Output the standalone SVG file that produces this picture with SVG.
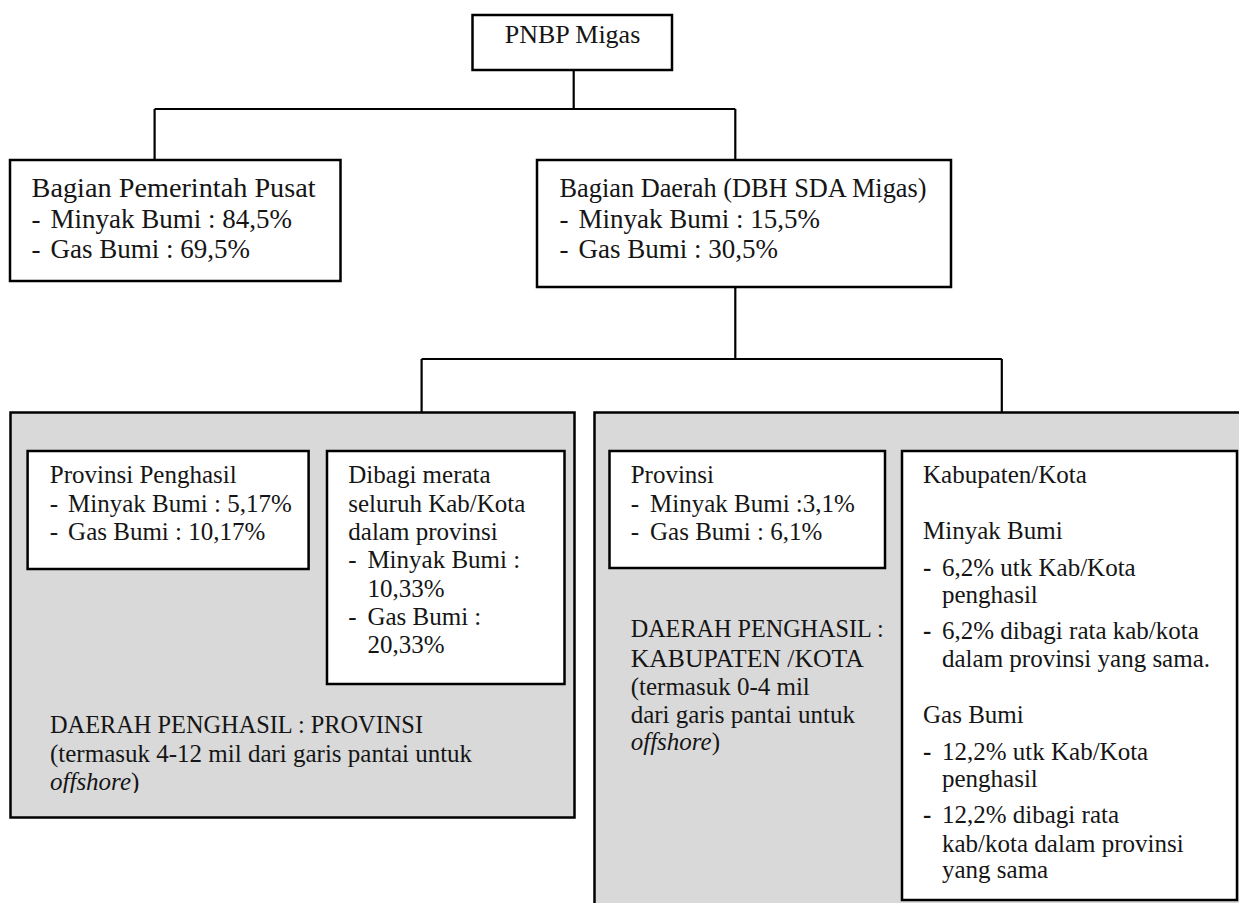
<svg xmlns="http://www.w3.org/2000/svg" width="1239" height="903" viewBox="0 0 1239 903">
<style>
.box{fill:#fff;stroke:#000;stroke-width:2.5}
.gray{fill:#d9d9d9;stroke:#000;stroke-width:2.5}
.conn{fill:none;stroke:#000;stroke-width:2.2}
text{font-family:"Liberation Serif","Times New Roman",serif;fill:#151515}
.t27{font-size:27px}
.t26{font-size:26px}
.t25{font-size:25px}
.b{font-weight:bold}
</style>
<defs>
<clipPath id="clipL"><rect x="10" y="412" width="566" height="381"/></clipPath>
</defs>
<rect width="1239" height="903" fill="#fff"/>
<g id="connectors">
<path class="conn" d="M573.7,70 V109 M154.6,109 H735.3 M154.6,109 V160 M735.3,109 V160"/>
<path class="conn" d="M735.3,287 V359 M421.6,359 H1001.8 M421.6,359 V412 M1001.8,359 V412"/>
</g>
<g id="pnbp">
<rect class="box" x="472.5" y="15" width="199.5" height="55"/>
<text class="t26" x="572.5" y="43" text-anchor="middle">PNBP Migas</text>
</g>
<g id="pusat">
<rect class="box" x="10" y="160" width="330.5" height="121"/>
<text class="t27" x="31.6" y="197" textLength="284" lengthAdjust="spacingAndGlyphs">Bagian Pemerintah Pusat</text>
<text class="t27" y="228"><tspan x="31.6">-</tspan><tspan x="50.6">Minyak Bumi : 84,5%</tspan></text>
<text class="t27" y="258"><tspan x="31.6">-</tspan><tspan x="50.6">Gas Bumi : 69,5%</tspan></text>
</g>
<g id="daerah">
<rect class="box" x="537" y="160" width="414" height="127"/>
<text class="t27" x="559.5" y="197" textLength="367" lengthAdjust="spacingAndGlyphs">Bagian Daerah (DBH SDA Migas)</text>
<text class="t27" y="228"><tspan x="559.5">-</tspan><tspan x="578.5">Minyak Bumi : 15,5%</tspan></text>
<text class="t27" y="258"><tspan x="559.5">-</tspan><tspan x="578.5">Gas Bumi : 30,5%</tspan></text>
</g>
<g id="provinsi-group">
<rect class="gray" x="10.5" y="412.5" width="564" height="405"/>
<g id="provinsi-penghasil">
<rect class="box" x="27.6" y="451" width="281" height="118"/>
<text class="t25" x="49.8" y="483">Provinsi Penghasil</text>
<text class="t25" y="512"><tspan x="49.8">-</tspan><tspan x="68.1">Minyak Bumi : 5,17%</tspan></text>
<text class="t25" y="540"><tspan x="49.8">-</tspan><tspan x="68.1">Gas Bumi : 10,17%</tspan></text>
</g>
<g id="dibagi-merata">
<rect class="box" x="327" y="451" width="237.5" height="233"/>
<text class="t25" x="348.3" y="483">Dibagi merata</text>
<text class="t25" x="348.3" y="512">seluruh Kab/Kota</text>
<text class="t25" x="348.3" y="540">dalam provinsi</text>
<text class="t25" y="568"><tspan x="348.3">-</tspan><tspan x="367.4">Minyak Bumi :</tspan></text>
<text class="t25" x="367.4" y="597">10,33%</text>
<text class="t25" y="625"><tspan x="348.3">-</tspan><tspan x="367.4">Gas Bumi :</tspan></text>
<text class="t25" x="367.4" y="653">20,33%</text>
</g>
<g clip-path="url(#clipL)">
<text class="t26" x="50" y="733" textLength="373" lengthAdjust="spacingAndGlyphs">DAERAH PENGHASIL : PROVINSI</text>
<text class="t25" x="50" y="762">(termasuk 4-12 mil dari garis pantai untuk</text>
<text class="t25" x="50" y="790"><tspan font-style="italic">offshore</tspan>)</text>
</g>
</g>
<g id="kabkota-group">
<rect class="gray" x="594.5" y="412.5" width="700" height="600"/>
<g id="provinsi">
<rect class="box" x="609.5" y="451" width="275.5" height="117"/>
<text class="t25" x="630.7" y="483">Provinsi</text>
<text class="t25" y="512"><tspan x="630.7">-</tspan><tspan x="650">Minyak Bumi :3,1%</tspan></text>
<text class="t25" y="540"><tspan x="630.7">-</tspan><tspan x="650">Gas Bumi : 6,1%</tspan></text>
</g>
<text class="t26" x="630.7" y="637" textLength="253" lengthAdjust="spacingAndGlyphs">DAERAH PENGHASIL :</text>
<text class="t26" x="630.7" y="667" textLength="233" lengthAdjust="spacingAndGlyphs">KABUPATEN /KOTA</text>
<text class="t25" x="630.7" y="695">(termasuk 0-4 mil</text>
<text class="t25" x="630.7" y="723">dari garis pantai untuk</text>
<text class="t25" x="630.7" y="750"><tspan font-style="italic">offshore</tspan>)</text>
<g id="kabupaten-kota">
<rect class="box" x="902" y="451" width="335" height="449"/>
<text class="t25" x="923" y="483">Kabupaten/Kota</text>
<text class="t25" x="923" y="539">Minyak Bumi</text>
<text class="t25" y="576"><tspan class="b" x="923">-</tspan><tspan x="942">6,2% utk Kab/Kota</tspan></text>
<text class="t25" x="942" y="603">penghasil</text>
<text class="t25" y="639"><tspan class="b" x="923">-</tspan><tspan x="942">6,2% dibagi rata kab/kota</tspan></text>
<text class="t25" x="942" y="667">dalam provinsi yang sama.</text>
<text class="t25" x="923" y="723">Gas Bumi</text>
<text class="t25" y="760"><tspan class="b" x="923">-</tspan><tspan x="942">12,2% utk Kab/Kota</tspan></text>
<text class="t25" x="942" y="787">penghasil</text>
<text class="t25" y="823"><tspan class="b" x="923">-</tspan><tspan x="942">12,2% dibagi rata</tspan></text>
<text class="t25" x="942" y="852">kab/kota dalam provinsi</text>
<text class="t25" x="942" y="878">yang sama</text>
</g>
</g>
</svg>
